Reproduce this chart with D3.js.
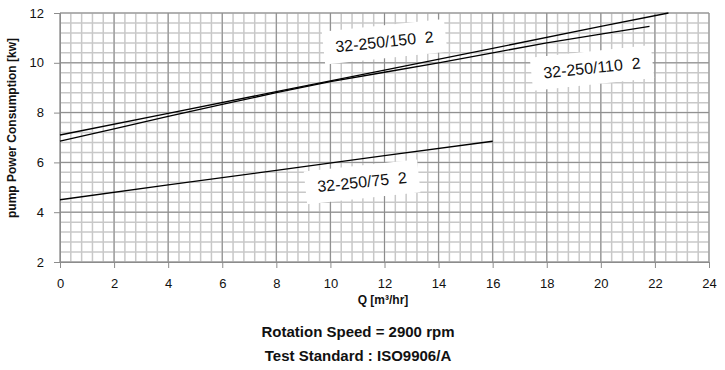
<!DOCTYPE html>
<html>
<head>
<meta charset="utf-8">
<script src="https://cdn.jsdelivr.net/npm/d3@7"></script>
<style>
  body { margin: 0; background: #fff; }
  svg text { font-family: "Liberation Sans", Arial, sans-serif; }
</style>
</head>
<body>
<div id="chart"></div>
<script>
// curves (Q in m3/hr, power in kW)
var q150 = [0, 4, 8, 12, 16, 20, 22.5];
var p150 = [7.1, 7.97, 8.84, 9.71, 10.58, 11.46, 12.0];
var q110 = [0, 2, 4, 6, 8, 10, 12, 14, 16, 18, 20, 21.8];
var p110 = [6.85, 7.35, 7.85, 8.33, 8.8, 9.24, 9.62, 10.0, 10.4, 10.8, 11.15, 11.46];
var q75 = [0, 4, 8, 12, 16];
var p75 = [4.5, 5.1, 5.68, 6.27, 6.85];
var seriesNames = ["32-250/150  2", "32-250/110  2", "32-250/75  2"];
var xTicks = [0, 2, 4, 6, 8, 10, 12, 14, 16, 18, 20, 22, 24];
var yTicks = [2, 4, 6, 8, 10, 12];
var notes = ["Rotation Speed = 2900 rpm", "Test Standard : ISO9906/A"];

var width = 725, height = 370;
var margin = { top: 13, right: 16, bottom: 108, left: 60 };

var x = d3.scaleLinear().domain([0, 24]).range([margin.left, width - margin.right]);
var y = d3.scaleLinear().domain([2, 12]).range([height - margin.bottom, margin.top]);

var svg = d3.select("#chart").append("svg")
    .attr("width", width)
    .attr("height", height);

// minor grid every 0.4
var minorX = d3.range(0, 61).map(function(i) { return i * 0.4; });
var minorY = d3.range(0, 26).map(function(i) { return 2 + i * 0.4; });

svg.append("g").selectAll("line").data(minorX).enter().append("line")
    .attr("x1", function(d) { return x(d); }).attr("x2", function(d) { return x(d); })
    .attr("y1", y(2)).attr("y2", y(12))
    .attr("stroke", "#c8c8c8").attr("stroke-width", 1.5);
svg.append("g").selectAll("line").data(minorY).enter().append("line")
    .attr("y1", function(d) { return y(d); }).attr("y2", function(d) { return y(d); })
    .attr("x1", x(0)).attr("x2", x(24))
    .attr("stroke", "#c8c8c8").attr("stroke-width", 1.5);

// major grid
svg.append("g").selectAll("line").data(xTicks).enter().append("line")
    .attr("x1", function(d) { return x(d); }).attr("x2", function(d) { return x(d); })
    .attr("y1", y(2)).attr("y2", y(12))
    .attr("stroke", "#8c8c8c").attr("stroke-width", 1);
svg.append("g").selectAll("line").data(yTicks).enter().append("line")
    .attr("y1", function(d) { return y(d); }).attr("y2", function(d) { return y(d); })
    .attr("x1", x(0)).attr("x2", x(24))
    .attr("stroke", "#8c8c8c").attr("stroke-width", 1);

// axes
var xAxis = svg.append("g")
    .attr("transform", "translate(0," + y(2) + ")")
    .call(d3.axisBottom(x).tickValues(xTicks).tickSize(6).tickPadding(11).tickFormat(d3.format("d")));
var yAxis = svg.append("g")
    .attr("transform", "translate(" + x(0) + ",0)")
    .call(d3.axisLeft(y).tickValues(yTicks).tickSize(6).tickPadding(10).tickFormat(d3.format("d")));
[xAxis, yAxis].forEach(function(a) {
  a.select(".domain").attr("stroke", "#8c8c8c");
  a.selectAll(".tick line").attr("stroke", "#8c8c8c");
  a.selectAll("text").attr("fill", "#111").style("font-size", "13px")
    .style("font-family", "'Liberation Sans', Arial, sans-serif");
});

// lines
var line = d3.line()
    .x(function(d) { return x(d[0]); })
    .y(function(d) { return y(d[1]); });

var curves = [
  d3.zip(q150, p150),
  d3.zip(q110, p110),
  d3.zip(q75, p75)
];

svg.append("g").selectAll("path").data(curves).enter().append("path")
    .attr("d", line)
    .attr("fill", "none")
    .attr("stroke", "#000")
    .attr("stroke-width", 1.3);

// curve labels on white tilted boxes
var labelAt = [[12.0, 10.85], [19.67, 9.8], [11.17, 5.22]];
labelAt.forEach(function(p, i) {
  var g = svg.append("g")
      .attr("transform", "translate(" + x(p[0]) + "," + y(p[1]) + ") rotate(-6)");
  var rect = g.append("rect").attr("fill", "#fff");
  var t = g.append("text")
      .attr("text-anchor", "middle")
      .attr("dy", "0.35em")
      .attr("fill", "#111")
      .style("font-size", "16px")
      .style("white-space", "pre")
      .text(seriesNames[i]);
  var bb = t.node().getBBox();
  rect.attr("x", bb.x - 12).attr("y", bb.y - 8)
      .attr("width", bb.width + 24).attr("height", bb.height + 16);
});

// axis titles
svg.append("text")
    .attr("transform", "translate(16," + 128 + ") rotate(-90)")
    .attr("text-anchor", "middle")
    .attr("fill", "#111")
    .style("font-size", "12px").style("font-weight", "bold")
    .text("pump Power Consumption [kw]");

svg.append("text")
    .attr("x", 383).attr("y", 304)
    .attr("text-anchor", "middle")
    .attr("fill", "#111")
    .style("font-size", "12px").style("font-weight", "bold")
    .text("Q [m\u00b3/hr]");

svg.selectAll(".note").data(notes).enter().append("text")
    .attr("class", "note")
    .attr("x", 358)
    .attr("y", function(d, i) { return 337 + i * 24; })
    .attr("text-anchor", "middle")
    .attr("fill", "#111")
    .style("font-size", "15px").style("font-weight", "bold")
    .text(function(d) { return d; });
</script>
</body>
</html>
